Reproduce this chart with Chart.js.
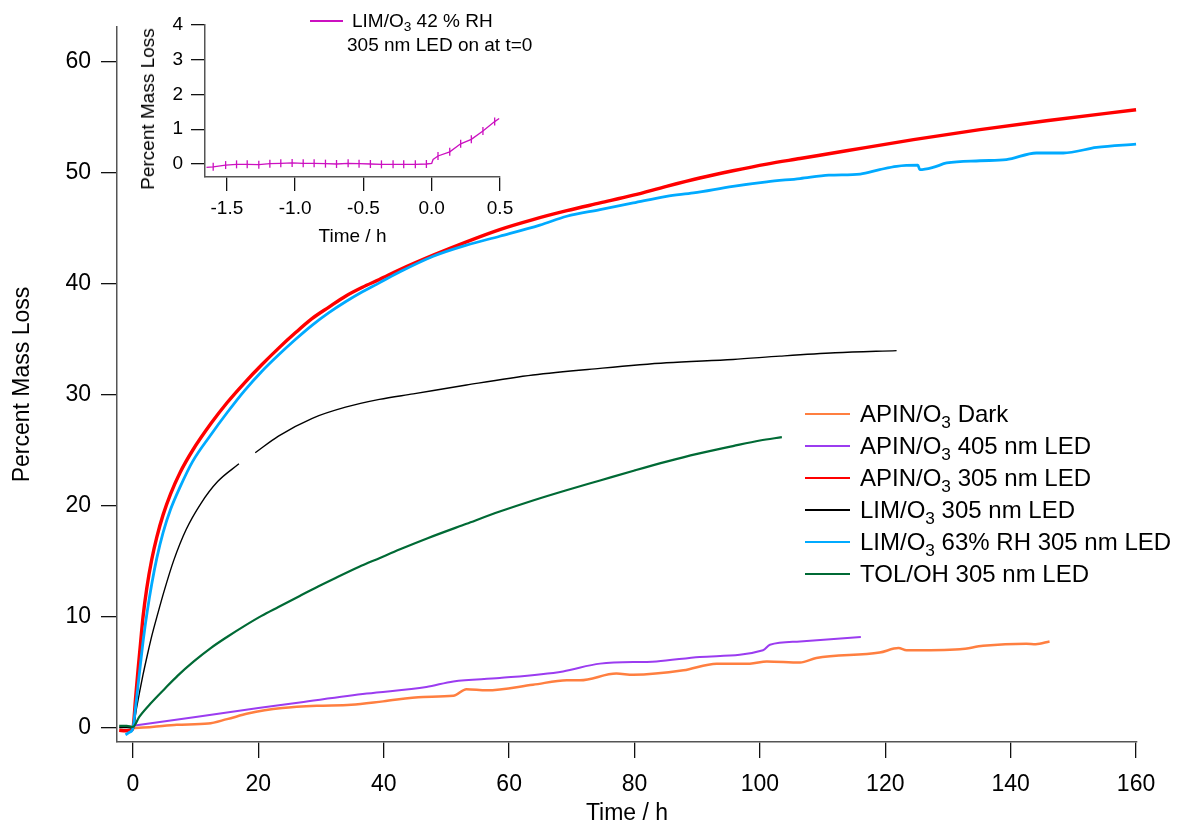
<!DOCTYPE html>
<html>
<head>
<meta charset="utf-8">
<script src="https://cdn.jsdelivr.net/npm/chart.js@4.4.1/dist/chart.umd.min.js"></script>
<style>
    html, body { margin: 0; padding: 0; background: #fff; }
    #wrap { position: relative; width: 1180px; height: 827px; font-family: "Liberation Sans", Arial, sans-serif; }
    #main { position: absolute; left: 0; top: 0; }
    #inset { position: absolute; left: 130px; top: 0; }
    .leg { position: absolute; color: #000; white-space: nowrap; }
    .leg .row { position: absolute; left: 0; height: 32px; line-height: 32px; }
    .leg .swatch { position: absolute; left: 0; top: 15px; width: 45px; height: 2px; }
    .leg .txt { position: absolute; left: 55px; top: 0; }
    .sub { font-size: 0.72em; vertical-align: -0.32em; line-height: 0; }
    .vtitle { position: absolute; transform: translate(-50%, -50%) rotate(-90deg); white-space: nowrap; color: #000; }
</style>
</head>
<body>
<div id="wrap">
    <canvas id="main" width="1180" height="827"></canvas>
    <canvas id="inset" width="400" height="250"></canvas>
    <div id="legend" class="leg" style="left:805px;top:398px;font-size:24px;"></div>
    <div id="insetLegend" class="leg" style="left:0;top:0;font-size:19px;"></div>
    <div id="insetYTitle" class="vtitle" style="left:148px;top:109px;font-size:19px;"></div>
</div>
<script>
/* ---- tick labels ---- */
const xTicks = [0, 20, 40, 60, 80, 100, 120, 140, 160];
const yTicks = [0, 10, 20, 30, 40, 50, 60];
const insetXTicks = [-1.5, -1.0, -0.5, 0.0, 0.5];
const insetYTicks = [0, 1, 2, 3, 4];

/* ---- series (time in h, percent mass loss) ---- */
const seriesNames = ['APIN/O3 Dark', 'APIN/O3 405 nm LED', 'APIN/O3 305 nm LED',
                     'LIM/O3 305 nm LED', 'LIM/O3 63% RH 305 nm LED', 'TOL/OH 305 nm LED'];

const apinDarkT = [0, 3, 7, 12, 15, 18.3, 21, 23.8, 29.3, 34.8, 39.9, 46.3, 51.1, 53.2, 56.4, 63.8, 69.2, 71.3,
                   77.1, 79.8, 87.8, 93.1, 98.4, 101.1, 106.4, 109, 119.1, 122.1, 123.4, 131.9, 135.6, 142.5, 144, 146.2];
const apinDarkY = [0, 0.1, 0.3, 0.4, 0.8, 1.3, 1.6, 1.8, 2.0, 2.1, 2.4, 2.8, 2.9, 3.5, 3.4, 3.9, 4.3, 4.3,
                   4.9, 4.8, 5.2, 5.8, 5.8, 6.0, 5.9, 6.3, 6.8, 7.2, 7.0, 7.1, 7.4, 7.6, 7.55, 7.8];

const apin405T = [0, 10, 20, 26.6, 37.3, 46.8, 51.1, 58.5, 68.6, 74.5, 83.5, 90.4, 100.5, 101.6, 106.4, 116.1];
const apin405Y = [0.2, 1.0, 1.8, 2.3, 3.1, 3.7, 4.2, 4.5, 5.1, 5.8, 6.0, 6.4, 7.0, 7.5, 7.8, 8.2];

const apin305T = [-2.2, -1.2, -0.3, 0, 0.4, 0.8, 1.2, 1.6, 2.2, 3, 3.8, 4.8, 6, 7.5, 9.5, 12.4, 15, 17.8, 20.5,
                  23.2, 25.9, 28.6, 31.2, 33.9, 36.6, 39.3, 42.6, 47.9, 53.2, 58.5, 63.8, 69.2, 74.5, 79.8,
                  85.1, 90.4, 95.7, 101.1, 106.4, 113.8, 124.5, 135.1, 145.7, 160];
const apin305Y = [-0.2, -0.25, -0.2, 0, 2.6, 5.2, 7.6, 10, 12.6, 15.2, 17.2, 19.2, 21.1, 23.0, 25.0, 27.4, 29.3, 31.1, 32.7,
                  34.2, 35.6, 36.9, 37.9, 38.9, 39.7, 40.4, 41.3, 42.6, 43.8, 44.9, 45.8, 46.6, 47.3, 48.0,
                  48.8, 49.55, 50.2, 50.8, 51.3, 52.0, 53.0, 53.9, 54.7, 55.7];

const lim305T = [-2.2, -1, 0, 0.5, 1, 1.6, 2.3, 3, 4, 5, 6.5, 8.5, 10.8, 13.5, 16.9, 18.2, 19.5,
                 23.2, 28.6, 33.9, 39.3, 44.7, 53.2, 63.8, 74.5, 85.1, 95.7, 103.2, 112, 121.8];
const lim305Y = [0.05, 0.05, 0, 1.6, 3.1, 4.8, 6.6, 8.3, 10.4, 12.4, 15.1, 17.9, 20.2, 22.2, 23.8, null, 24.8,
                 26.3, 27.9, 28.9, 29.6, 30.1, 30.9, 31.8, 32.4, 32.9, 33.2, 33.5, 33.8, 34.0];

const limRhT = [-1.2, -0.6, 0, 0.4, 0.8, 1.2, 1.7, 2.3, 3, 3.8, 4.8, 6, 7.5, 9.5, 12.4, 15, 17.8, 20.5, 23.2, 25.9,
                28.6, 31.2, 33.9, 36.6, 39.3, 42.6, 47.9, 53.2, 58.5, 64.9, 69.2, 74.5, 79.8, 85.1, 89.4, 95.7,
                101.1, 106.4, 111, 116, 119.1, 121.8, 125.2, 125.5, 127.6, 129.8, 135.1, 139.3, 144.1, 148.4, 153.7, 160];
const limRhY = [-0.6, -0.4, 0, 1.8, 3.8, 5.8, 8.2, 10.6, 13.0, 15.3, 17.6, 19.7, 21.7, 24.0, 26.4, 28.4, 30.4, 32.1, 33.6, 35.0,
                36.3, 37.4, 38.4, 39.3, 40.1, 41.1, 42.5, 43.5, 44.3, 45.3, 46.1, 46.7, 47.3, 47.9, 48.2, 48.8,
                49.2, 49.5, 49.8, 49.9, 50.3, 50.6, 50.7, 50.3, 50.5, 50.9, 51.1, 51.2, 51.8, 51.8, 52.3, 52.6];

const tolT = [-2.2, -1, 0, 1, 2.8, 5, 7.1, 9.7, 12.4, 15, 17.8, 20.5, 23.2, 26.6, 29, 31.9, 36, 39.3, 42.6, 47,
              53.2, 58.5, 63.8, 69, 74.5, 80, 85.1, 90, 95.7, 100, 103.5];
const tolY = [0.2, 0.2, 0.1, 1.0, 2.2, 3.5, 4.7, 6.0, 7.2, 8.2, 9.2, 10.1, 10.9, 11.9, 12.6, 13.4, 14.5, 15.3, 16.1, 17.1,
              18.4, 19.5, 20.5, 21.4, 22.3, 23.2, 24.0, 24.7, 25.4, 25.9, 26.2];

/* ---- inset: LIM/O3 42 % RH ---- */
const insetName = 'LIM/O3 42 % RH';
const insetNote = '305 nm LED on at t=0';
const insetT = [-1.649, -1.600, -1.509, -1.429, -1.351, -1.266, -1.185, -1.105, -1.022, -0.941, -0.861, -0.778,
                -0.697, -0.612, -0.532, -0.449, -0.368, -0.283, -0.205, -0.120, -0.039, 0, 0.01,
                0.046, 0.132, 0.212, 0.290, 0.375, 0.461, 0.494];
const insetY = [-0.1, -0.08, -0.03, -0.01, -0.01, -0.02, 0.01, 0.02, 0.03, 0.02, 0.02, 0.01,
                0, 0.02, 0.01, 0, -0.01, -0.01, -0.01, -0.01, 0, 0.02, 0.13,
                0.23, 0.35, 0.58, 0.71, 0.95, 1.22, 1.31];

const seriesT = [apinDarkT, apin405T, apin305T, lim305T, limRhT, tolT];
const seriesY = [apinDarkY, apin405Y, apin305Y, lim305Y, limRhY, tolY];
const seriesColors = ['#ff7f40', '#9b3cf0', '#ff0000', '#000000', '#00aaff', '#006a35'];
const seriesWidths = [2.5, 2, 3.4, 1.4, 2.8, 2.2];
const insetColor = '#cc10c0';

const FONT = '"Liberation Sans", Arial, sans-serif';

const subHtml = s => s.replace(/O3/g, 'O<span class="sub">3</span>');

/* ---- legends and inset y title ---- */
document.getElementById('legend').innerHTML = seriesNames.map((n, i) =>
    `<div class="row" style="top:${i * 32}px;"><div class="swatch" style="background:${seriesColors[i]}"></div><div class="txt">${subHtml(n)}</div></div>`
).join('');

document.getElementById('insetLegend').innerHTML = `
    <div style="position:absolute;left:310px;top:20px;width:33px;height:1.5px;background:${insetColor}"></div>
    <div style="position:absolute;left:352px;top:9px;line-height:24px;">${subHtml(insetName)}</div>
    <div style="position:absolute;left:347px;top:33px;line-height:24px;">${insetNote}</div>`;

document.getElementById('insetYTitle').textContent = 'Percent Mass Loss';

/* ---- helpers ---- */
const pts = (t, y) => t.map((x, i) => ({ x: x, y: y[i] }));

function axis(opts) {
    return {
        type: 'linear', min: opts.min, max: opts.max,
        afterFit: s => { if (opts.w) s.width = opts.w; if (opts.h) s.height = opts.h; },
        afterBuildTicks: s => { s.ticks = opts.ticks.map(v => ({ value: v })); },
        border: { display: true, color: '#555', width: 1.5 },
        grid: { display: true, drawOnChartArea: false, drawTicks: true, tickLength: opts.tl, color: '#111', lineWidth: 1.3 },
        ticks: { color: '#000', font: { family: FONT, size: opts.fs }, padding: opts.pad, maxRotation: 0, autoSkip: false,
                 callback: opts.fmt || (v => v) },
        title: { display: !!opts.title, text: opts.title || '', color: '#000', font: { family: FONT, size: opts.fs }, padding: opts.tp }
    };
}

/* ---- main chart (reversed so later traces sit on top) ---- */
const datasets = seriesNames.map((n, i) => ({
    label: n,
    data: pts(seriesT[i], seriesY[i]),
    borderColor: seriesColors[i],
    borderWidth: seriesWidths[i],
    pointRadius: 0,
    cubicInterpolationMode: 'monotone',
    spanGaps: false,
    fill: false
})).reverse();

new Chart(document.getElementById('main'), {
    type: 'line',
    data: { datasets },
    options: {
        responsive: false, animation: false, devicePixelRatio: 1,
        layout: { padding: { left: 0, top: 27, right: 43, bottom: 0 } },
        plugins: { legend: { display: false }, tooltip: { enabled: false } },
        scales: {
            x: axis({ min: -2.55, max: 160.15, ticks: xTicks, h: 85, tl: 16, fs: 23, pad: 13,
                      title: 'Time / h', tp: { top: 0, bottom: 0 } }),
            y: axis({ min: -1.26, max: 63.15, ticks: yTicks, w: 117, tl: 16, fs: 23, pad: 10,
                      title: 'Percent Mass Loss', tp: { top: 9, bottom: 0 } })
        }
    }
});

/* ---- inset chart ---- */
const lastIdx = insetT.length - 1;
new Chart(document.getElementById('inset'), {
    type: 'line',
    data: { datasets: [{
        label: insetName,
        data: pts(insetT, insetY),
        borderColor: insetColor,
        backgroundColor: insetColor,
        borderWidth: 1.3,
        pointStyle: 'line',
        pointRotation: 90,
        pointBorderWidth: 1.3,
        pointRadius: ctx => (ctx.dataIndex === 0 || ctx.dataIndex === lastIdx || insetT[ctx.dataIndex] === 0 || insetT[ctx.dataIndex] === 0.01) ? 0 : 4,
        fill: false
    }]},
    options: {
        responsive: false, animation: false, devicePixelRatio: 1,
        layout: { padding: { left: 0, top: 25, right: 30, bottom: 0 } },
        plugins: { legend: { display: false }, tooltip: { enabled: false } },
        scales: {
            x: axis({ min: -1.66, max: 0.5, ticks: insetXTicks, h: 73, tl: 14, fs: 19, pad: 6,
                      title: 'Time / h', tp: { top: 0, bottom: 2 }, fmt: v => v.toFixed(1) }),
            y: axis({ min: -0.374, max: 4, ticks: insetYTicks, w: 75, tl: 14, fs: 19, pad: 8 })
        }
    }
});
</script>
</body>
</html>
